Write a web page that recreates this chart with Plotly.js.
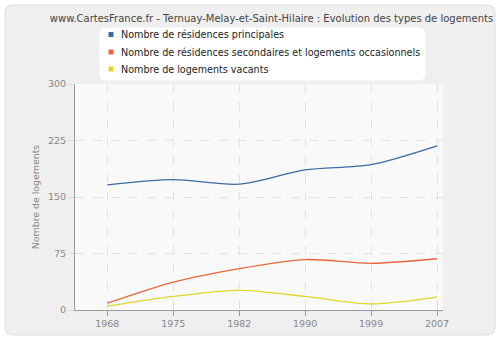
<!DOCTYPE html>
<html><head><meta charset="utf-8">
<script src="https://cdn.plot.ly/plotly-3.0.1.min.js"></script>
<style>html,body{margin:0;padding:0;background:#fff}#chart{width:500px;height:340px}</style>
</head><body><div id="chart"></div>
<script>
const years = ["1968","1975","1982","1990","1999","2007"];
const principales = [166, 173, 167, 186, 193, 218];
const secondaires = [9, 37, 55, 67, 62, 68];
const vacants = [5, 18, 26, 18, 8, 17];
const seriesNames = ["Nombre de résidences principales","Nombre de résidences secondaires et logements occasionnels","Nombre de logements vacants"];
const colors = ["#3d6aa0","#e8663a","#e3d42e"];
const yTicks = [0, 75, 150, 225, 300];

const L=75, R=443, T=84, B=310;
const px = v => (v-L)/(R-L);
const py = v => (B-v)/(B-T);
function rrect(x0,y0,x1,y1,r){
  const rx=r/(R-L), ry=r/(B-T);
  const a=px(x0), b=px(x1), c=py(y0), d=py(y1);
  return `M ${a+rx},${c} L ${b-rx},${c} Q ${b},${c} ${b},${c-ry} L ${b},${d+ry} Q ${b},${d} ${b-rx},${d} L ${a+rx},${d} Q ${a},${d} ${a},${d+ry} L ${a},${c-ry} Q ${a},${c} ${a+rx},${c} Z`;
}
const data = [principales, secondaires, vacants];
const traces = data.map((d,i)=>({x:years, y:d, type:'scatter', mode:'lines', name:seriesNames[i], line:{color:colors[i], width:1.3, shape:'spline', smoothing:0.8}, showlegend:false, hoverinfo:'skip'}));

const legendRows = [34.5, 52, 69];
const shapes = [
  {type:'path', xref:'paper', yref:'paper', path:rrect(5,5,495,335,8), fillcolor:'#efefef', line:{color:'#dcdcdc', width:1}, layer:'below'},
  {type:'rect', xref:'paper', yref:'paper', x0:0, x1:1, y0:0, y1:1, fillcolor:'#f9f9f9', line:{width:0}, layer:'below'},
  {type:'path', xref:'paper', yref:'paper', path:rrect(100,28,425,80,6), fillcolor:'#ffffff', line:{color:'#ffffff', width:1}, layer:'below'}
];
const annotations = [];
seriesNames.forEach((n,i)=>{
  const yc = legendRows[i];
  shapes.push({type:'rect', xref:'paper', yref:'paper', x0:px(108.5), x1:px(113.5), y0:py(yc-2.5), y1:py(yc+2.5), fillcolor:colors[i], line:{width:0}});
  annotations.push({xref:'paper', yref:'paper', x:px(119), y:py(yc), xanchor:'left', yanchor:'middle', text:n, showarrow:false, font:{size:9.6, color:'#222'}});
});

const layout = {
  width:500, height:340,
  margin:{l:L, r:500-R, t:T, b:340-B, autoexpand:false},
  paper_bgcolor:'#ffffff', plot_bgcolor:'#f9f9f9',
  font:{family:'DejaVu Sans, sans-serif', size:9.5, color:'#888'},
  title:{text:'www.CartesFrance.fr - Ternuay-Melay-et-Saint-Hilaire : Evolution des types de logements', font:{size:10, color:'#444'}, x:0.534, xanchor:'center', xref:'paper', y:0.947, yanchor:'middle'},
  xaxis:{type:'category', range:[-0.49, 5.09], showline:true, linecolor:'#999', linewidth:1, ticks:'outside', ticklen:5, tickcolor:'#999', showgrid:true, gridcolor:'#e2e2e2', griddash:'dash', gridwidth:1, zeroline:false, tickfont:{size:9.5,color:'#888'}, fixedrange:true, automargin:false},
  yaxis:{range:[0,300], tickvals:yTicks, ticktext:yTicks.map(String), showline:true, linecolor:'#999', linewidth:1, ticks:'outside', ticklen:6, tickcolor:'#ddd', showgrid:true, gridcolor:'#e2e2e2', griddash:'dash', zeroline:false, tickfont:{size:9.5,color:'#888'}, title:{text:'Nombre de logements', font:{size:9.4,color:'#888'}, standoff:6}, fixedrange:true, automargin:false},
  showlegend:false,
  shapes:shapes, annotations:annotations
};
Plotly.newPlot('chart', traces, layout, {displayModeBar:false, staticPlot:true});
</script></body></html>
